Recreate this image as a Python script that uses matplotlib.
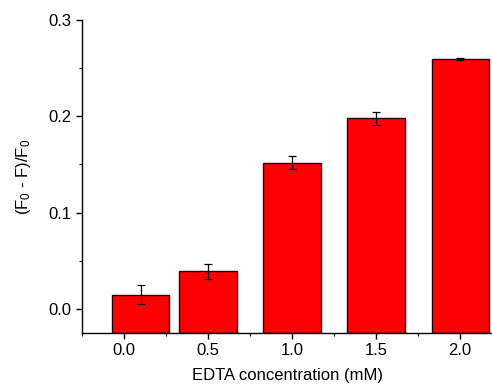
import matplotlib
matplotlib.use("Agg")
import matplotlib.pyplot as plt
from matplotlib.ticker import MultipleLocator

plt.rcParams['font.family'] = ['Liberation Sans', 'DejaVu Sans']
plt.rcParams['mathtext.fontset'] = 'custom'
plt.rcParams['mathtext.rm'] = 'Liberation Sans'
plt.rcParams['mathtext.it'] = 'Liberation Sans'

positions = [0.1, 0.5, 1.0, 1.5, 2.0]
values = [0.015, 0.039, 0.152, 0.198, 0.260]
errors = [0.010, 0.008, 0.007, 0.007, 0.001]
xtick_vals = [0.0, 0.5, 1.0, 1.5, 2.0]
xtick_labels = ["0.0", "0.5", "1.0", "1.5", "2.0"]
ytick_vals = [0.0, 0.1, 0.2, 0.3]
ytick_labels = ["0.0", "0.1", "0.2", "0.3"]

ymin, ymax = -0.025, 0.3

fig = plt.figure(figsize=(4.92, 3.85), dpi=100)
ax = fig.add_axes([0.1667, 0.135, 0.8333, 0.813])

ax.bar(positions, [v - ymin for v in values], bottom=ymin, width=0.34,
       color='#FF0000', edgecolor='#1a0000', linewidth=1.0, zorder=2)
ax.errorbar(positions, values, yerr=errors, fmt='none', ecolor='black',
            elinewidth=0.9, capsize=3, capthick=0.9, zorder=3)

ax.set_xlim(-0.25, 2.19)
ax.set_ylim(ymin, ymax)
ax.set_xticks(xtick_vals)
ax.set_xticklabels(xtick_labels)
ax.set_yticks(ytick_vals)
ax.set_yticklabels(ytick_labels)
ax.xaxis.set_minor_locator(MultipleLocator(0.25))
ax.yaxis.set_minor_locator(MultipleLocator(0.05))

for s in ['top', 'right']:
    ax.spines[s].set_visible(False)
for s in ['left', 'bottom']:
    ax.spines[s].set_linewidth(1.0)
    ax.spines[s].set_zorder(4)

ax.tick_params(axis='both', which='major', direction='out', length=4, width=1.0,
               labelsize=12, pad=3.5)
ax.tick_params(axis='both', which='minor', direction='out', length=2.2, width=0.8)

ax.set_xlabel("EDTA concentration (mM)", fontsize=12, labelpad=7)
ax.set_ylabel(r"(F$_{\mathregular{0}}$ - F)/F$_{\mathregular{0}}$", fontsize=12, labelpad=11)

fig.savefig("out.png", dpi=100)
